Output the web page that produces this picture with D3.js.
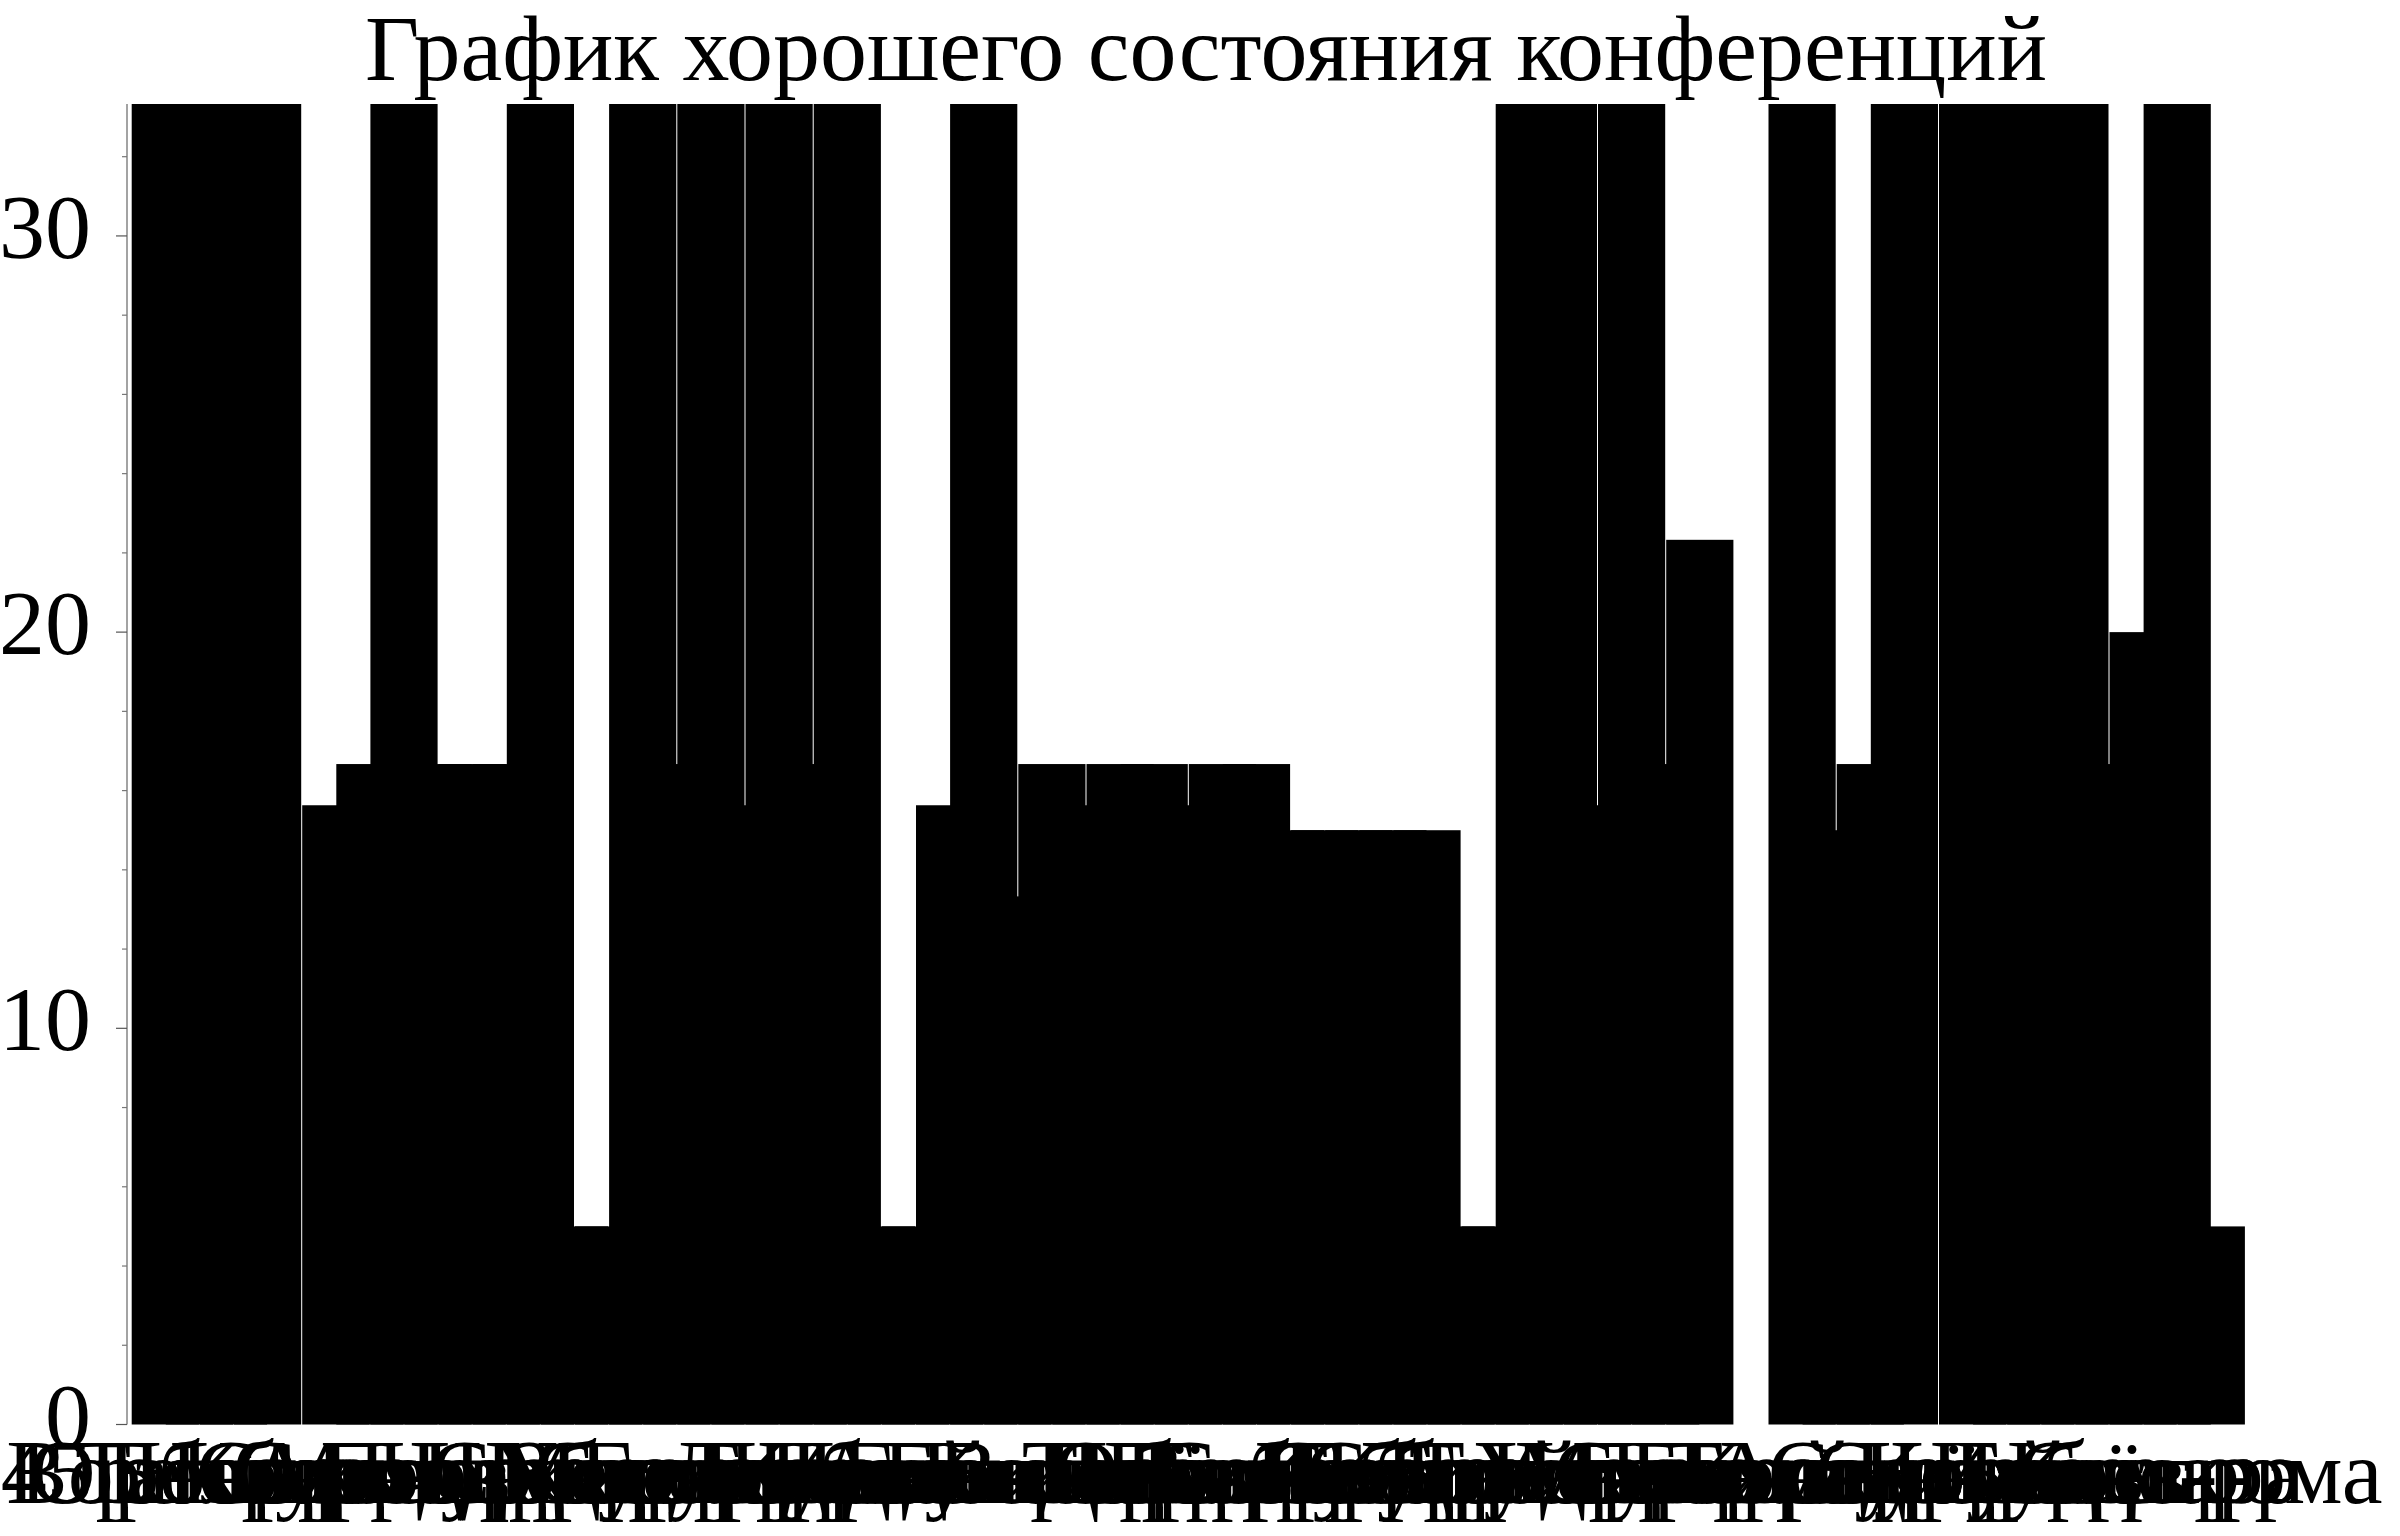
<!DOCTYPE html>
<html>
<head>
<meta charset="utf-8">
<script src="https://cdn.jsdelivr.net/npm/d3@7"></script>
<style>
  html, body { margin: 0; padding: 0; background: #ffffff; }
  svg { display: block; }
  text { font-family: "Liberation Serif", "Times New Roman", serif; }
</style>
</head>
<body>
<script>
// ---- data (category names are illegible in the original, estimated) ----
const title = "График хорошего состояния конференций";

const categories = [
  "45 сбор", "Воронеж", "Оренбург", "Таганрог", "Белгород", "Новгород", "Саратов", "Краснодар",
  "Армавир", "Сыктывкар", "Мичуринск", "Петербург", "Черкесск", "Сарапул", "Шадринск", "Ужгород",
  "Миргород", "Зеленоград", "Ставрополь", "Георгиевск", "Дербент", "Курган", "Березники", "Иркутск",
  "Чистополь", "Азов-Дар", "Гатчина-р", "Ейск-Пер", "Кирово-р", "Витебск-р", "Тверь-р", "Пермь-р",
  "Орёл-Бор", "Выборг", "Бор-Кур", "Сочи-Бор", "Кемер", "Сибирь", "Рубцовск", "Бобруйск",
  "Солигорск", "Борисов", "Гродно-р", "Томск-Бор", "Уссури-р", "Мирный", "Норильск-р", "Северск-р",
  "Барнаул", "Прохладный", "Кызыл-р", "Тимашёвск", "Апатиты-р", "Серпухов", "Сургут-р", "Королёв",
  "Ногинск-р", "Ирбит-р", "Бердск-р", "Самара", "Кострома"
];

const values = [
  33.33, 33.33, 33.33, 33.33, 0, 15.63, 16.67, 33.33,
  16.67, 16.67, 16.67, 33.33, 5, 5, 33.33, 16.67,
  33.33, 15.63, 33.33, 16.67, 33.33, 5, 5, 15.63,
  33.33, 13.33, 16.67, 15.63, 16.67, 16.67, 15.63, 16.67,
  16.67, 15, 15, 15, 15, 15, 5, 5,
  33.33, 33.33, 15.63, 33.33, 16.67, 22.33, 0, 0,
  33.33, 15, 16.67, 33.33, 0, 33.33, 33.33, 33.33,
  33.33, 16.67, 20, 33.33, 5
];

const majorTicks = [0, 10, 20, 30];
const minorTicks = [2, 4, 6, 8, 12, 14, 16, 18, 22, 24, 26, 28, 32];

// ---- layout ----
const W = 2400, H = 1536;
const plotLeft = 131.7, plotRight = 2211.8, plotTop = 104, plotBottom = 1424.5;
const axisX = 127;
const fontSize = 92;

const data = categories.map((c, i) => ({ name: c, value: values[i] }));

const svg = d3.select("body").append("svg")
  .attr("width", W).attr("height", H)
  .attr("viewBox", `0 0 ${W} ${H}`);

const x = d3.scaleBand().domain(categories).range([plotLeft, plotRight]).padding(0);
const y = d3.scaleLinear().domain([0, d3.max(values)]).range([plotBottom, plotTop]);

// bars: each bar spans two steps (as in the original), with a 1px gap at its right end
svg.append("g").selectAll("rect")
  .data(data)
  .join("rect")
  .attr("x", d => x(d.name))
  .attr("y", d => y(d.value))
  .attr("width", x.step() * 2 - 1)
  .attr("height", d => y(0) - y(d.value))
  .attr("fill", "#000");

// y axis
const yAxis = svg.append("g").attr("transform", `translate(${axisX},0)`);
yAxis.append("line")
  .attr("x1", 0).attr("x2", 0)
  .attr("y1", plotTop).attr("y2", plotBottom)
  .attr("stroke", "#666").attr("stroke-width", 1.2);
yAxis.selectAll("line.minor")
  .data(minorTicks)
  .join("line")
  .attr("class", "minor")
  .attr("x1", -5).attr("x2", 0)
  .attr("y1", d => y(d)).attr("y2", d => y(d))
  .attr("stroke", "#777").attr("stroke-width", 1.2);
yAxis.selectAll("line.major")
  .data(majorTicks)
  .join("line")
  .attr("class", "major")
  .attr("x1", -11).attr("x2", 0)
  .attr("y1", d => y(d)).attr("y2", d => y(d))
  .attr("stroke", "#555").attr("stroke-width", 1.2);
svg.append("g").selectAll("text")
  .data(majorTicks)
  .join("text")
  .attr("x", 91)
  .attr("y", d => y(d) + 22)
  .attr("text-anchor", "end")
  .attr("font-size", fontSize)
  .attr("fill", "#000")
  .text(d => d);

// x labels (no ticks, no domain line)
svg.append("g").selectAll("text")
  .data(categories)
  .join("text")
  .attr("x", d => x(d) + x.bandwidth() / 2)
  .attr("y", 1503)
  .attr("text-anchor", "middle")
  .attr("font-size", fontSize)
  .attr("fill", "#000")
  .text(d => d);

// title
svg.append("text")
  .attr("x", 1206)
  .attr("y", 80)
  .attr("text-anchor", "middle")
  .attr("font-size", 94)
  .attr("fill", "#000")
  .text(title);
</script>
</body>
</html>
